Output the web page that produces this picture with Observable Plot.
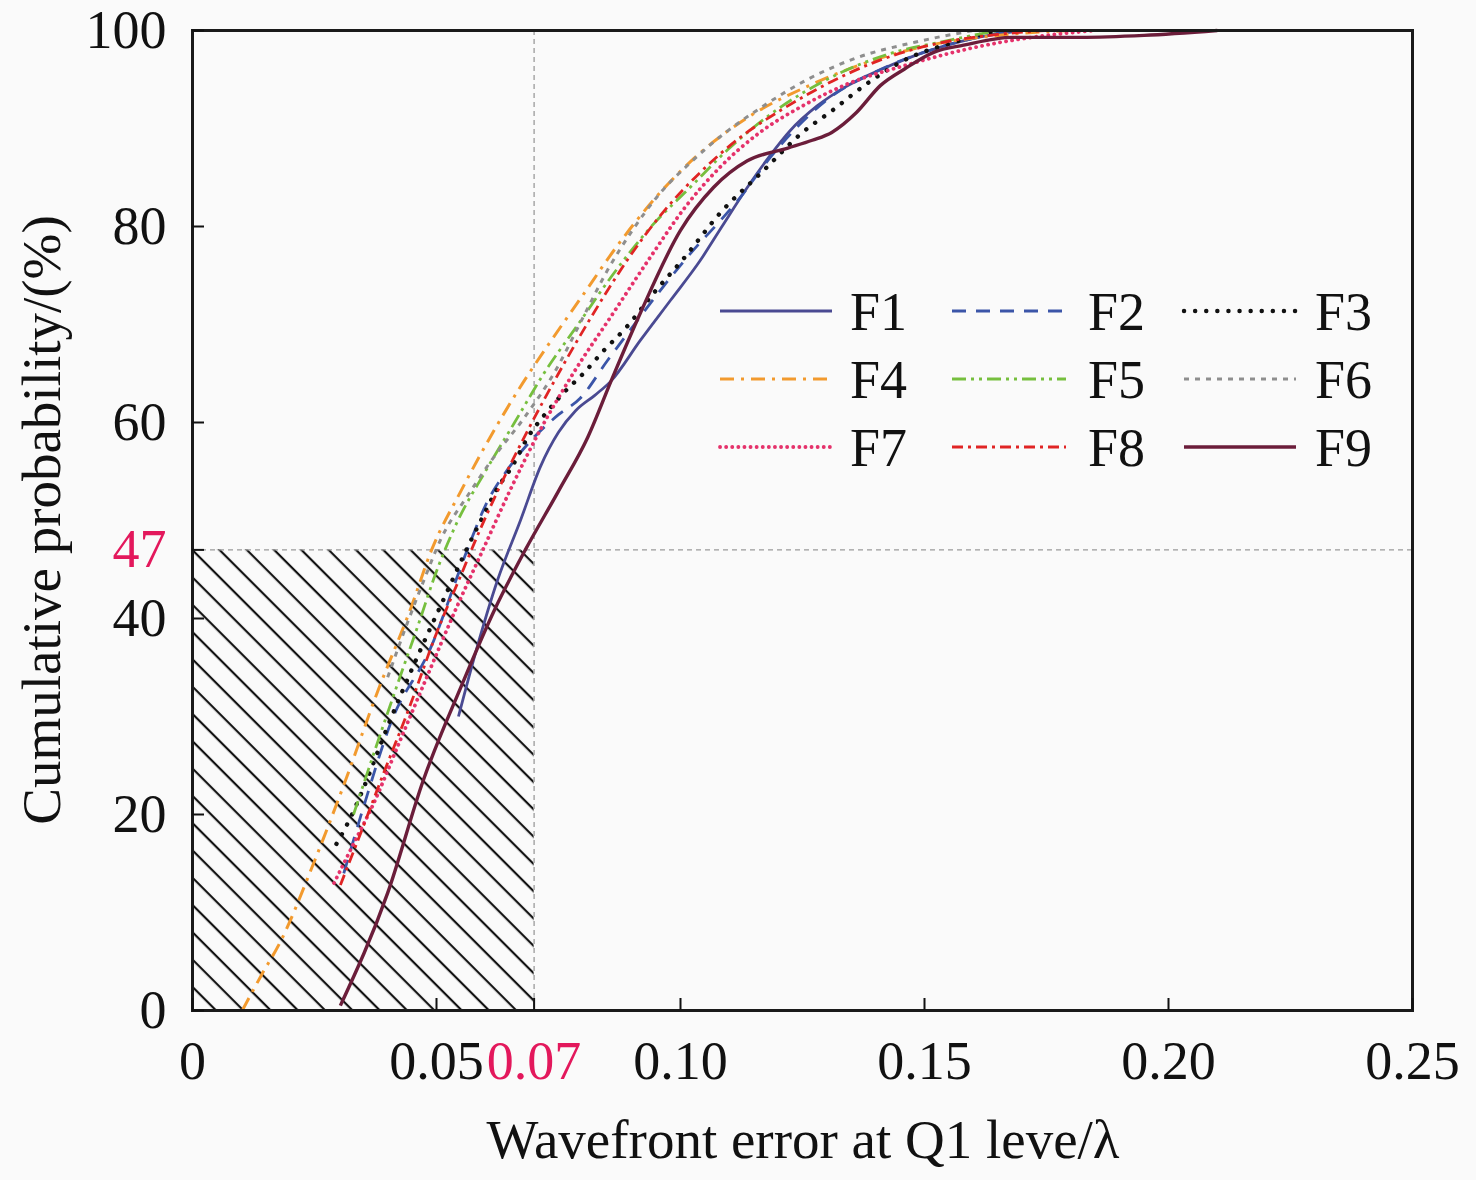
<!DOCTYPE html>
<html><head><meta charset="utf-8">
<script src="https://cdn.jsdelivr.net/npm/d3@7"></script>
<script src="https://cdn.jsdelivr.net/npm/@observablehq/plot@0.6"></script>
<style>
html,body{margin:0;padding:0;background:#fafafa;}
#chart{position:relative;width:1476px;height:1180px;}
</style></head><body><div id="chart"></div>
<script>
// ---- data (x: wavefront error / λ, y: cumulative probability %) ----
const seriesNames = ["F1","F2","F3","F4","F5","F6","F7","F8","F9"];
const F1 = [[0.0545,30],[0.058,36.5],[0.0625,43.9],[0.0672,50],[0.0713,55.5],[0.0750,59],[0.0785,61.2],[0.0825,62.8],[0.0857,64.2],[0.0918,68.4],[0.0980,72.5],[0.104,76.5],[0.1085,80],[0.1133,83.7],[0.118,87],[0.1225,89.8],[0.128,92.3],[0.134,94.3],[0.141,96],[0.150,97.8],[0.160,99.2],[0.170,100]];
const F2 = [[0.031,14],[0.0355,21.5],[0.0406,29.3],[0.0488,37],[0.0563,47],[0.0600,51.5],[0.0650,55.5],[0.0700,58.5],[0.0750,60.8],[0.0795,62.5],[0.0850,66.3],[0.0910,70.3],[0.0970,74.2],[0.1030,77.8],[0.1080,80.5],[0.1123,83],[0.118,86.8],[0.124,90.2],[0.131,93.3],[0.140,95.8],[0.150,97.8],[0.160,99.2],[0.168,100]];
const F3 = [[0.0295,17],[0.0324,19.7],[0.0348,22.4],[0.0400,29],[0.0460,36],[0.0515,42],[0.0566,47.5],[0.0596,50.5],[0.0625,53.3],[0.0656,55.6],[0.0686,58.4],[0.0725,61],[0.0760,63],[0.0801,65],[0.0842,67.3],[0.0887,69.6],[0.0950,73.5],[0.1006,76.7],[0.1080,81.3],[0.1170,85.7],[0.1250,89.6],[0.1310,91.8],[0.1380,94.5],[0.1460,97],[0.1560,98.8],[0.1650,100]];
const F4 = [[0.0102,0],[0.0140,3.5],[0.0180,7],[0.0248,15],[0.0310,23],[0.0379,32.5],[0.0447,41],[0.0490,47],[0.0550,53],[0.0610,58.5],[0.0670,63.5],[0.0730,68],[0.0800,73],[0.0870,78],[0.0950,83],[0.1040,87.5],[0.1140,91.2],[0.1260,94.3],[0.1380,96.7],[0.1500,98.4],[0.1650,99.5],[0.1800,100]];
const F5 = [[0.0330,20],[0.0370,26],[0.0418,33],[0.0467,40],[0.0494,44],[0.0541,49.7],[0.0600,55],[0.0660,60],[0.0720,65],[0.0790,70],[0.0860,75],[0.0940,80],[0.1020,84],[0.1096,87.8],[0.1200,92],[0.1300,95],[0.1420,97.5],[0.1550,99],[0.1650,100]];
const F6 = [[0.0400,34],[0.0440,39.5],[0.0475,44],[0.0508,48],[0.0566,52.7],[0.0615,56.3],[0.0680,60.5],[0.0744,65.3],[0.0795,70.2],[0.0850,75.5],[0.0900,79.5],[0.0960,83.5],[0.1020,86.5],[0.1090,89.5],[0.1170,92.3],[0.1260,95],[0.1360,97.2],[0.1480,98.8],[0.1600,100]];
const F7 = [[0.0290,13],[0.0330,17],[0.0370,21],[0.0425,27.5],[0.0480,34],[0.0540,41],[0.0595,47],[0.0650,53],[0.0710,59],[0.0780,65],[0.0860,71],[0.0940,77],[0.1010,82],[0.1080,86],[0.1160,89.5],[0.1250,92.3],[0.1340,94.5],[0.1465,96.5],[0.1615,98.4],[0.1750,99.5],[0.1850,100]];
const F8 = [[0.0303,12.8],[0.0340,17.5],[0.0390,24],[0.0445,31],[0.0500,38.5],[0.0555,45],[0.0580,48],[0.0630,53.5],[0.0685,59],[0.0750,65],[0.0820,71],[0.0890,76.5],[0.0965,81.5],[0.1040,85.5],[0.1120,89],[0.1210,92],[0.1310,94.8],[0.1410,97],[0.1520,98.6],[0.1650,99.6],[0.1750,100]];
const F9 = [[0.0303,0.5],[0.0400,12],[0.0473,23.5],[0.0550,33],[0.0620,41],[0.0682,47],[0.0750,53],[0.0810,58.5],[0.0860,64.5],[0.0918,71.2],[0.1000,79.6],[0.1068,84],[0.1137,86.7],[0.1220,88],[0.1270,88.8],[0.1310,89.6],[0.1360,91.6],[0.1410,94.4],[0.1460,96.1],[0.1520,97.8],[0.1580,98.5],[0.1680,99.3],[0.1820,99.3],[0.1950,99.5],[0.2100,100]];
const seriesData = {F1,F2,F3,F4,F5,F6,F7,F8,F9};

const xTicks = [0,0.05,0.07,0.10,0.15,0.20,0.25];
const xTickLabels = ["0","0.05","0.07","0.10","0.15","0.20","0.25"];
const yTicks = [0,20,40,47,60,80,100];
const yTickLabels = ["0","20","40","47","60","80","100"];
const thresholdX = 0.07;
const thresholdY = 47;
const xLabel = "Wavefront error at Q1 leve/λ";
const yLabel = "Cumulative probability/(%)";

// ---- styles ----
const RED = "#e3185c";
const styles = {
  F1:{stroke:"#4a4a92", dash:null, width:2.8, cap:"butt"},
  F2:{stroke:"#3b55a8", dash:"14,10", width:2.8, cap:"butt"},
  F3:{stroke:"#111111", dash:"0.1,11", width:4.4, cap:"round"},
  F4:{stroke:"#f29a2e", dash:"14,7,3,7", width:3, cap:"butt"},
  F5:{stroke:"#76bf3e", dash:"14,5,3,5,3,5", width:2.8, cap:"butt"},
  F6:{stroke:"#8e8e8e", dash:"5,6", width:3, cap:"butt"},
  F7:{stroke:"#e5326b", dash:"0.1,6", width:3.8, cap:"round"},
  F8:{stroke:"#e02424", dash:"11,5,3,5", width:2.8, cap:"butt"},
  F9:{stroke:"#6b1d3a", dash:null, width:3.4, cap:"butt"}
};

const table = seriesNames.flatMap(name => seriesData[name].map(([x,y]) => ({series:name, x, y})));

const lineMarks = seriesNames.map(name => Plot.line(table.filter(d => d.series === name), {
  x:"x", y:"y", curve:"monotone-x",
  stroke: styles[name].stroke,
  strokeWidth: styles[name].width,
  strokeDasharray: styles[name].dash ?? undefined,
  strokeLinecap: styles[name].cap
}));

const plot = Plot.plot({
  width:1476, height:1180,
  marginLeft:192, marginRight:64, marginTop:30, marginBottom:170,
  style:{background:"transparent", fontFamily:"'Liberation Serif','Times New Roman',serif", fontSize:"54px", color:"#111"},
  x:{domain:[0,0.25]},
  y:{domain:[0,100]},
  marks:[
    Plot.rect([{x1:0,x2:thresholdX,y1:0,y2:thresholdY}], {x1:"x1",x2:"x2",y1:"y1",y2:"y2", fill:"url(#hatch)"}),
    Plot.ruleY([thresholdY], {stroke:"#9a9a9a", strokeWidth:1.3, strokeDasharray:"5,4"}),
    Plot.ruleX([thresholdX], {stroke:"#9a9a9a", strokeWidth:1.3, strokeDasharray:"5,4"}),
    ...lineMarks,
    Plot.frame({stroke:"#1a1a1a", strokeWidth:3}),
    Plot.axisX(xTicks, {tickSize:-12, tickPadding:42, tickFormat:(d)=>xTickLabels[xTicks.indexOf(d)], label:null, strokeWidth:2}),
    Plot.axisY(yTicks, {tickSize:-12, tickPadding:38, tickFormat:(d)=>yTickLabels[yTicks.indexOf(d)], label:null, strokeWidth:2})
  ]
});

const svg = d3.select(plot);
const defs = svg.insert("defs", ":first-child");
const pat = defs.append("pattern").attr("id","hatch").attr("patternUnits","userSpaceOnUse")
  .attr("width",19.3).attr("height",19.3).attr("patternTransform","rotate(45)");
pat.append("line").attr("x1",0).attr("y1",2).attr("x2",19.3).attr("y2",2).attr("stroke","#111").attr("stroke-width",2.2);

// colour highlighted tick labels
svg.selectAll("text").each(function(){
  const t = d3.select(this).text();
  if (t === "0.07" || t === "47") d3.select(this).attr("fill", RED);
});

// axis titles
svg.append("text").attr("x",803).attr("y",1158).attr("text-anchor","middle")
  .attr("font-size",55).attr("fill","#111").text(xLabel);
svg.append("text").attr("transform","translate(60,520) rotate(-90)").attr("text-anchor","middle")
  .attr("font-size",55).attr("fill","#111").text(yLabel);

// legend
const legendCols = [{x1:720,x2:832,tx:850},{x1:952,x2:1066,tx:1088},{x1:1184,x2:1296,tx:1315}];
const legendRows = [311,379,447];
const lg = svg.append("g").attr("text-anchor","start");
seriesNames.forEach((name,i) => {
  const c = legendCols[i%3], r = legendRows[Math.floor(i/3)], s = styles[name];
  lg.append("line").attr("x1",c.x1).attr("x2",c.x2).attr("y1",r).attr("y2",r)
    .attr("stroke",s.stroke).attr("stroke-width",s.width)
    .attr("stroke-dasharray",s.dash).attr("stroke-linecap",s.cap);
  lg.append("text").attr("x",c.tx).attr("y",r).attr("dy","0.35em").attr("text-anchor","start")
    .attr("font-size",54).attr("fill","#111").text(name);
});

document.getElementById("chart").appendChild(plot);
</script></body></html>
